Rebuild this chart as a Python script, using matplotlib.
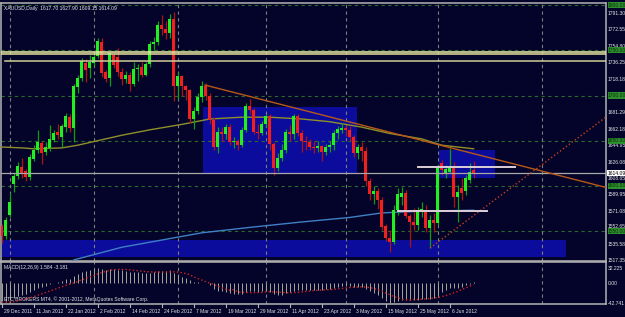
import matplotlib
matplotlib.use("Agg")
import matplotlib.pyplot as plt
from matplotlib.patches import Rectangle
import numpy as np

# XAUUSD daily bars (bar 0 = 29 Dec 2011)
opens = [1555, 1544, 1568, 1602, 1611, 1621, 1616, 1610, 1630, 1640,
         1647, 1638, 1642, 1651, 1660, 1654, 1665, 1676, 1664, 1709,
         1719, 1736, 1730, 1736, 1744, 1759, 1726, 1719, 1745, 1743,
         1726, 1718, 1723, 1713, 1729, 1731, 1723, 1735, 1757, 1759,
         1778, 1774, 1769, 1785, 1711, 1722, 1710, 1706, 1674, 1683,
         1698, 1711, 1700, 1673, 1643, 1660, 1657, 1665, 1649, 1650,
         1645, 1662, 1688, 1684, 1660, 1658, 1669, 1677, 1646, 1620,
         1631, 1640, 1660, 1657, 1677, 1659, 1650, 1649, 1643, 1642,
         1644, 1637, 1643, 1645, 1658, 1662, 1664, 1662, 1654, 1636,
         1643, 1639, 1605, 1591, 1594, 1584, 1556, 1542, 1538, 1573,
         1588, 1592, 1567, 1560, 1557, 1571, 1573, 1553, 1562, 1559,
         1625, 1614, 1615, 1620, 1588, 1598, 1594, 1607, 1617.70]
highs = [1558, 1566, 1592, 1614, 1626, 1631, 1619, 1635, 1645, 1662,
         1650, 1648, 1667, 1662, 1668, 1669, 1681, 1679, 1713, 1723,
         1741, 1740, 1745, 1746, 1764, 1764, 1728, 1748, 1747, 1753,
         1731, 1727, 1726, 1737, 1735, 1737, 1737, 1760, 1765, 1782,
         1789, 1782, 1790, 1792, 1726, 1723, 1712, 1707, 1687, 1703,
         1716, 1714, 1703, 1676, 1665, 1665, 1668, 1668, 1654, 1652,
         1665, 1692, 1696, 1686, 1668, 1672, 1680, 1680, 1648, 1636,
         1646, 1663, 1667, 1679, 1680, 1662, 1655, 1652, 1650, 1650,
         1645, 1646, 1650, 1662, 1666, 1670, 1667, 1666, 1656, 1646,
         1649, 1643, 1609, 1600, 1598, 1588, 1558, 1551, 1579, 1598,
         1599, 1595, 1569, 1576, 1577, 1582, 1579, 1568, 1570, 1623,
         1629, 1623, 1642, 1626, 1601, 1609, 1612, 1625, 1627.90]
lows = [1537, 1541, 1565, 1593, 1608, 1609, 1605, 1606, 1627, 1636,
        1624, 1634, 1639, 1648, 1652, 1643, 1660, 1660, 1649, 1703,
        1716, 1715, 1719, 1733, 1741, 1721, 1715, 1710, 1730, 1722,
        1712, 1714, 1705, 1710, 1716, 1720, 1722, 1732, 1750, 1756,
        1767, 1763, 1764, 1694, 1696, 1700, 1695, 1670, 1663, 1680,
        1693, 1695, 1668, 1640, 1636, 1650, 1652, 1645, 1642, 1640,
        1643, 1660, 1680, 1657, 1652, 1656, 1665, 1640, 1612, 1616,
        1627, 1636, 1650, 1652, 1655, 1637, 1640, 1640, 1636, 1637,
        1627, 1634, 1638, 1640, 1652, 1658, 1655, 1650, 1632, 1630,
        1628, 1600, 1584, 1580, 1574, 1551, 1539, 1527, 1536, 1568,
        1579, 1564, 1532, 1551, 1551, 1566, 1549, 1531, 1549, 1557,
        1612, 1609, 1614, 1577, 1560, 1584, 1590, 1603, 1609.15]
closes = [1544, 1562, 1582, 1611, 1622, 1614, 1610, 1632, 1640, 1649,
          1636, 1643, 1652, 1659, 1656, 1666, 1677, 1664, 1710, 1719,
          1738, 1728, 1737, 1743, 1760, 1725, 1718, 1747, 1734, 1726,
          1718, 1723, 1713, 1729, 1731, 1723, 1735, 1757, 1759, 1778,
          1774, 1769, 1785, 1711, 1722, 1710, 1706, 1674, 1683, 1698,
          1711, 1700, 1673, 1643, 1660, 1657, 1665, 1649, 1650, 1645,
          1662, 1688, 1684, 1660, 1658, 1669, 1677, 1646, 1620, 1631,
          1640, 1660, 1657, 1677, 1659, 1650, 1649, 1643, 1642, 1644,
          1637, 1643, 1645, 1658, 1663, 1664, 1662, 1654, 1636, 1643,
          1639, 1605, 1591, 1594, 1584, 1554, 1542, 1538, 1573, 1591,
          1592, 1567, 1560, 1557, 1573, 1574, 1553, 1562, 1559, 1621,
          1618, 1619, 1620, 1588, 1593, 1592, 1609, 1615, 1614.09]

# MACD(12,26,9): main line drawn as histogram, signal as dotted line
macd_main = [-38, -38.5, -36, -32, -28, -25, -22.5, -18.5, -14.5, -10.5,
             -8.5, -6, -3, 0.5, 2.5, 5, 8, 9.5, 14.5, 18.5,
             23, 25, 27, 29.5, 32.2, 31, 29, 30, 30, 29,
             27.5, 26, 24, 23.5, 23, 21.5, 21, 22.5, 23.5, 25.5,
             26, 26, 27, 21, 17.5, 14, 11, 6, 3, 1.5,
             1, -0.5, -4, -12, -16, -18, -19, -21, -22.5, -24,
             -23, -19, -17, -18, -19, -18, -17, -19.5, -24, -25,
             -24.5, -21.5, -19.5, -16, -15.5, -15.5, -15, -15, -15, -14.5,
             -14.5, -13.5, -12.5, -10.5, -8.5, -7, -6, -6, -7.5, -8,
             -9, -12, -16.5, -22, -26, -32, -38, -42.7, -41, -38,
             -36, -36.5, -37, -37, -35.5, -34, -34.5, -33.5, -32.5, -25.5,
             -20, -15.5, -11.5, -11, -9.5, -7.5, -4.5, -1.5, 1.584]
macd_signal = [-41, -41, -40.5, -39.5, -38, -36, -34, -31.5, -29, -26,
               -23, -20, -17, -14, -11, -8, -5, -2.5, 0.5, 3.5,
               7, 10, 13, 16, 19.5, 22.5, 25, 27, 28.5, 29.5,
               29.5, 29, 28.5, 27.5, 26.5, 25.5, 24.5, 24, 23.5, 23.5,
               23.5, 23.5, 24, 24, 23.5, 22, 20.5, 18, 13, 10,
               6.5, 3, 0, -3, -6.5, -10, -13, -15.5, -14, -19,
               -19.5, -20, -20.5, -20.5, -20.5, -20, -19, -18.5, -19, -19.5,
               -20, -20.5, -21, -20.5, -20, -19, -18, -17, -16, -15.5,
               -15, -14.5, -14, -13.5, -12.5, -11.5, -10.5, -9.5, -9, -8.5,
               -8, -8.5, -9.5, -11.5, -14, -17, -21, -25, -28.5, -31.5,
               -34, -35.5, -36.5, -35, -35, -34.5, -34, -33, -32, -31,
               -29, -27, -24, -21, -18, -14, -10.5, -7, -3.181]

# moving averages, read at sample bars
olive_bars = [0, 5, 8, 15, 19, 25, 30, 37, 45, 52, 60, 67, 75, 82, 90, 97, 105, 110, 118]
olive_vals = [1643, 1642, 1641, 1642, 1645, 1651, 1656, 1662, 1668, 1674,
              1676, 1676, 1674, 1671, 1665, 1658, 1652, 1645, 1641]
blue_bars = [16, 18, 30, 40, 50, 62, 75, 87, 95, 105, 118]
blue_vals = [1512, 1518, 1532, 1540, 1548, 1554, 1560, 1565, 1570, 1572, 1573]

# chart objects (bar, price)
boxes = [(50.3, 88.8, 1614.2, 1687.3), (109.3, 123.3, 1608.7, 1639.7), (0.1, 141.1, 1521.2, 1540.0)]
yellow_levels = [1748.5, 1746.0, 1738.2]
down_trend = ([50.8, 151.1], [1711.6, 1598.2])
up_trend = ([107.1, 151.1], [1531.2, 1676.2])
white_segments = [(104.1, 128.3, 1621.2), (99.1, 121.3, 1572.2)]
last_price = 1614.09

grid_levels = [1550, 1600, 1650, 1700, 1750, 1800]
month_bars = [2, 23, 44, 66, 86, 109, 135]
price_labels = [1791.30, 1772.55, 1754.80, 1736.25, 1718.18, 1681.29, 1662.18,
                1644.95, 1626.08, 1608.65, 1589.95, 1571.08, 1552.65, 1535.58, 1517.35]
macd_labels = [32.225, 0.0, -42.741]
date_labels = ["29 Dec 2011", "11 Jan 2012", "22 Jan 2012", "2 Feb 2012", "14 Feb 2012",
               "24 Feb 2012", "7 Mar 2012", "19 Mar 2012", "29 Mar 2012", "11 Apr 2012",
               "23 Apr 2012", "3 May 2012", "15 May 2012", "25 May 2012", "6 Jun 2012"]
date_bars = [0, 8, 16, 24, 32, 40, 48, 56, 64, 72, 80, 88, 96, 104, 112]

BG = "#04042a"
FRAME = "#b4b4b4"
TXT = "#e4e4e4"
FONT = dict(family="Liberation Sans", fontsize=3.6)

W, H = 625, 317
fig = plt.figure(figsize=(W / 100, H / 100), dpi=100)
fig.patch.set_facecolor(BG)


def panel(x0, y0, x1, y1):
    a = fig.add_axes([x0 / W, 1 - y1 / H, (x1 - x0) / W, (y1 - y0) / H])
    a.set_facecolor(BG)
    a.set_xticks([])
    a.set_yticks([])
    for s in a.spines.values():
        s.set_color(FRAME)
        s.set_linewidth(1.1)
    a.set_xlim(-0.2, 151.1)
    return a


ax = panel(1, 3, 606, 261)
ax.set_ylim(1516.8, 1802.4)
ax2 = panel(1, 262, 606, 304)
ax2.set_ylim(-44.8, 45.1)

idx = np.arange(len(closes))
o, h, l, c = (np.array(v, dtype=float) for v in (opens, highs, lows, closes))
up = c >= o

# background boxes and grid
for x0, x1, p0, p1 in boxes:
    ax.add_patch(Rectangle((x0, p0), x1 - x0, p1 - p0, facecolor="#0c0c9c",
                           edgecolor="none", zorder=1))
for g in grid_levels:
    ax.axhline(g, color="#2a6a2a", lw=0.8, dashes=(3, 3), zorder=2)
for m in month_bars:
    for a in (ax, ax2):
        a.axvline(m, color="#7c7c7c", lw=0.8, dashes=(3, 3), zorder=2)

ax.plot(olive_bars, olive_vals, color="#8f8f2a", lw=1, zorder=3)
ax.plot(blue_bars, blue_vals, color="#3f7fc4", lw=1, zorder=3)

# candles
ax.vlines(idx[up], l[up], h[up], color="#139a13", lw=0.9, zorder=4)
ax.vlines(idx[~up], l[~up], h[~up], color="#b01212", lw=0.9, zorder=4)
body_lo = np.minimum(o, c)
body_h = np.maximum(np.abs(c - o), 0.8)
ax.bar(idx[up], body_h[up], bottom=body_lo[up], width=0.7, color="#22ee22", lw=0, zorder=4.5)
ax.bar(idx[~up], body_h[~up], bottom=body_lo[~up], width=0.7, color="#ee2020", lw=0, zorder=4.5)

# drawn objects
ax.axhline(yellow_levels[0], color="#eeeea8", lw=1.1, zorder=5)
ax.axhline(yellow_levels[1], color="#e2e29a", lw=1.1, zorder=5)
ax.plot([0.8, 151.1], [yellow_levels[2]] * 2, color="#cfcf96", lw=1.1, zorder=5)
ax.axhline(last_price, color="#a8a8a8", lw=0.9, zorder=5)
ax.plot(*down_trend, color="#b85818", lw=1, zorder=5)
ax.plot(*up_trend, color="#c8401a", lw=1, ls=":", zorder=5)
for x0, x1, p in white_segments:
    ax.plot([x0, x1], [p, p], color="#dccfd8", lw=1.4, zorder=5)

# right price scale
ytr = ax.get_yaxis_transform()
for p in price_labels:
    near_box = any(0 < p - g < 4 for g in grid_levels)
    ax.text(1.0035, p, f"{p:.2f}", transform=ytr, color=TXT, ha="left",
            va="bottom" if near_box else "center", clip_on=False, **FONT)
for g in grid_levels:
    ax.text(1.0035, g, f"{g:.2f}", transform=ytr, color="#0a300a", va="center", ha="left",
            clip_on=False, bbox=dict(facecolor="#2e8e2e", edgecolor="none", pad=0.4), **FONT)
ax.text(1.0035, last_price, f"{last_price:.2f}", transform=ytr, color="#000000", va="center",
        ha="left", clip_on=False, bbox=dict(facecolor="#ffffff", edgecolor="none", pad=0.5), **FONT)

ax.text(0.005, 0.99, "XAUUSD,Daily  %.2f %.2f %.2f %.2f" % (opens[-1], highs[-1], lows[-1], closes[-1]),
        transform=ax.transAxes, color=TXT, va="top", ha="left", **FONT)

# MACD panel
ax2.vlines(idx, 0, macd_main, color="#a8a898", lw=0.7, zorder=3)
ax2.plot(idx, macd_signal, color="#d42020", lw=1, ls=":", zorder=4)
ytr2 = ax2.get_yaxis_transform()
for v in macd_labels:
    ax2.text(1.0035, v, f"{v:.3f}" if v else "0.00", transform=ytr2, color=TXT,
             va="center", ha="left", clip_on=False, **FONT)
ax2.text(0.005, 0.93, "MACD(12,26,9) %.3f %.3f" % (macd_main[-1], macd_signal[-1]),
         transform=ax2.transAxes, color=TXT, va="top", ha="left", **FONT)
ax2.text(0.005, 0.05, "ETC BROKERS MT4, \u00a9 2001-2012, MetaQuotes Software Corp.",
         transform=ax2.transAxes, color=TXT, va="bottom", ha="left", **FONT)

# date scale
xtr = ax2.get_xaxis_transform()
for b, lab in zip(date_bars, date_labels):
    ax2.plot([b, b], [0, -0.08], transform=xtr, color=FRAME, lw=0.8, clip_on=False)
    ax2.text(b + 0.6, -0.17, lab, transform=xtr, color=TXT, va="center", ha="left",
             clip_on=False, **FONT)

fig.savefig("out.png", dpi=100, facecolor=BG)
